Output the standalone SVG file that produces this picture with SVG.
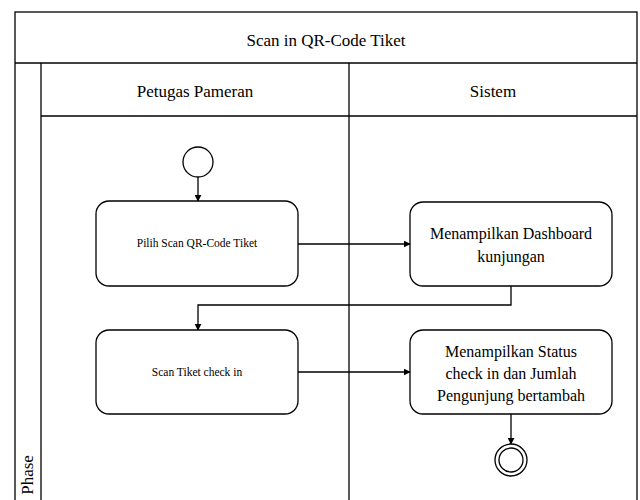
<svg xmlns="http://www.w3.org/2000/svg" width="640" height="500" viewBox="0 0 640 500">
  <defs>
    <marker id="arrow" viewBox="0 0 10 10" refX="9" refY="5" markerWidth="7" markerHeight="7" markerUnits="userSpaceOnUse" orient="auto">
      <path d="M0,0 L10,5 L0,10 z" fill="#000"/>
    </marker>
    <style>
      .lane { fill: #fff; stroke: #000; stroke-width: 1.3; }
      .act { fill: #fff; stroke: #000; stroke-width: 1.3; }
      .edge { fill: none; stroke: #000; stroke-width: 1.3; marker-end: url(#arrow); }
      text { font-family: 'Liberation Serif', 'Times New Roman', Times, 'DejaVu Serif', serif; fill: #000; text-anchor: middle; }
      .h { font-size: 17px; }
      .s { font-size: 11.5px; }
      .m { font-size: 16px; }
    </style>
  </defs>

  <!-- pool and lanes -->
  <g id="pool">
    <rect class="lane" x="15" y="12" width="622" height="500"/>
    <line class="lane" x1="15" y1="63" x2="637" y2="63"/>
    <text class="h" x="326" y="46">Scan in QR-Code Tiket</text>
  </g>
  <g id="phase">
    <line class="lane" x1="41" y1="63" x2="41" y2="500"/>
    <text class="h" transform="translate(33,475) rotate(-90)">Phase</text>
  </g>
  <g id="lane-petugas">
    <line class="lane" x1="41" y1="116" x2="349" y2="116"/>
    <text class="h" x="195" y="97">Petugas Pameran</text>
  </g>
  <g id="lane-sistem">
    <line class="lane" x1="349" y1="116" x2="637" y2="116"/>
    <line class="lane" x1="349" y1="63" x2="349" y2="500"/>
    <text class="h" x="493" y="97">Sistem</text>
  </g>

  <!-- connectors -->
  <g id="connectors">
    <path class="edge" d="M198,177 L198,201"/>
    <path class="edge" d="M298,244 L410,244"/>
    <path class="edge" d="M511,286 L511,305 L198,305 L198,330"/>
    <path class="edge" d="M298,372 L410,372"/>
    <path class="edge" d="M511,414 L511,444"/>
  </g>

  <!-- nodes -->
  <g id="start">
    <circle class="act" cx="198" cy="162" r="15"/>
  </g>
  <g id="pilih-scan">
    <rect class="act" x="96" y="201" width="202" height="85" rx="13"/>
    <text class="s" x="197" y="247">Pilih Scan QR-Code Tiket</text>
  </g>
  <g id="dashboard">
    <rect class="act" x="410" y="202" width="202" height="84" rx="13"/>
    <text class="m" x="511" y="239">Menampilkan Dashboard</text>
    <text class="m" x="511" y="262">kunjungan</text>
  </g>
  <g id="scan-tiket">
    <rect class="act" x="96" y="330" width="202" height="84" rx="13"/>
    <text class="s" x="197" y="376">Scan Tiket check in</text>
  </g>
  <g id="status">
    <rect class="act" x="410" y="330" width="202" height="84" rx="13"/>
    <text class="m" x="511" y="357">Menampilkan Status</text>
    <text class="m" x="511" y="379">check in dan Jumlah</text>
    <text class="m" x="511" y="401">Pengunjung bertambah</text>
  </g>
  <g id="end">
    <circle class="act" cx="511" cy="460" r="16"/>
    <circle class="act" cx="511" cy="460" r="12"/>
  </g>
</svg>
